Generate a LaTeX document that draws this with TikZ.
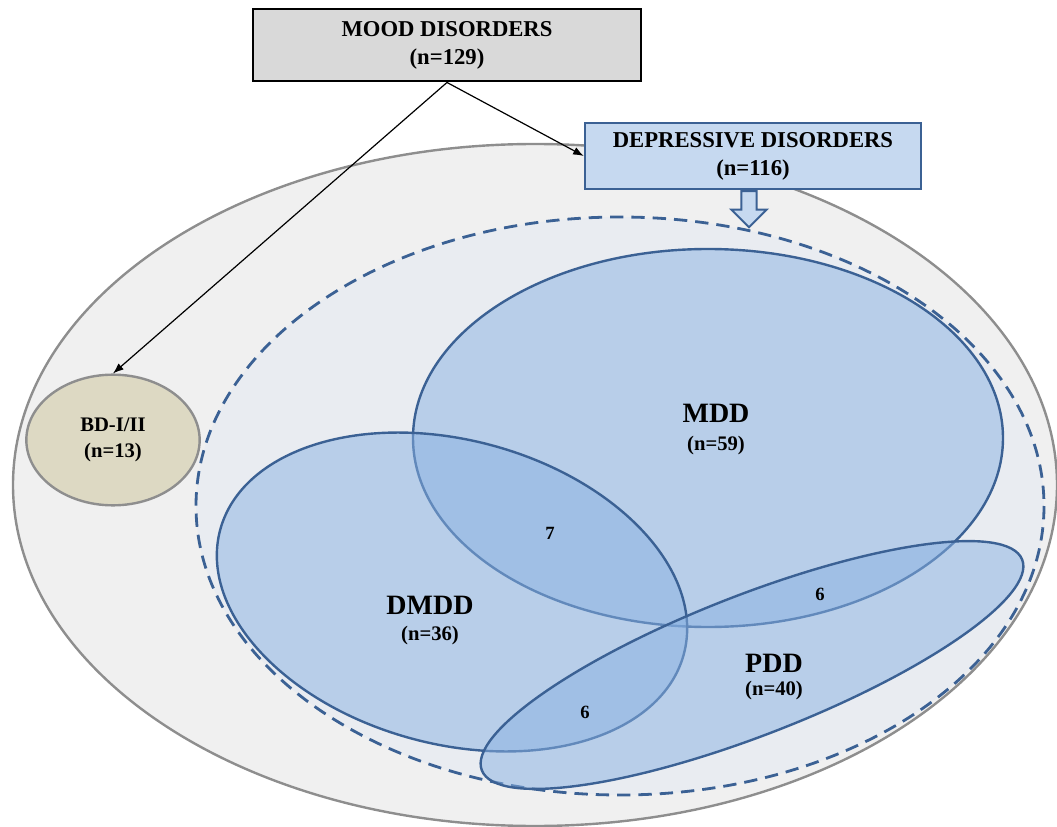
\documentclass[tikz,border=0pt]{standalone}
\usepackage{fontspec}
\setmainfont{Liberation Serif}
\usetikzlibrary{shapes.geometric,shapes.arrows,arrows.meta}

\definecolor{boxgray}{HTML}{D9D9D9}
\definecolor{outerfill}{HTML}{F0F0F0}
\definecolor{outerline}{HTML}{8E8E8E}
\definecolor{depfill}{HTML}{E9ECF1}
\definecolor{depbox}{HTML}{C6D9F0}
\definecolor{vennblue}{HTML}{89B2E3}
\definecolor{vennline}{HTML}{3B6194}
\definecolor{bdfill}{HTML}{DDD9C3}

\tikzset{
  boxtext/.style={font=\fontsize{17}{21}\selectfont\bfseries, align=center},
  lbl/.style={font=\fontsize{15.5}{18}\selectfont\bfseries, align=center, inner sep=0pt},
  biglbl/.style={font=\fontsize{21}{24}\selectfont\bfseries, inner sep=0pt},
  numlbl/.style={font=\fontsize{14}{16}\selectfont\bfseries, inner sep=0pt},
  vennset/.style={draw=vennline, line width=1.8pt, fill=vennblue, fill opacity=0.5, draw opacity=1},
  pointer/.style={-{Latex[length=8pt,width=6pt]}, line width=0.9pt}
}

\begin{document}
\begin{tikzpicture}[x=0.75pt, y=-0.75pt]
    \useasboundingbox (0,0) rectangle (1057,827);

    % Mood disorders
    \draw[draw=outerline, line width=1.8pt, fill=outerfill] (535,485) ellipse [x radius=522, y radius=341];

    % Depressive disorders
    \draw[draw=vennline, line width=2.1pt, dash pattern=on 10pt off 6pt, fill=depfill] (620,506) ellipse [x radius=424, y radius=289];

    % Venn
    \draw[vennset] (708,438) ellipse [x radius=295, y radius=189];
    \draw[vennset, rotate around={-15:(452,592)}] (452,592) ellipse [x radius=240, y radius=152];
    \draw[vennset, rotate around={21.3:(752,665)}] (752,665) ellipse [x radius=290, y radius=70];

    \node[biglbl] (mddname) at (716,413) {MDD};
    \node[lbl] (mddn) at (716,446) {(n=59)};
    \node[biglbl] (dmddname) at (430,605) {DMDD};
    \node[lbl] (dmddn) at (430,636) {(n=36)};
    \node[biglbl] (pddname) at (774,663) {PDD};
    \node[lbl] (pddn) at (774,691) {(n=40)};
    \node[numlbl] (mddxdmdd) at (550,533) {7};
    \node[numlbl] (mddxpdd) at (820,594) {6};
    \node[numlbl] (dmddxpdd) at (585,712) {6};

    % Boxes
    \node[boxtext, draw=black, line width=2.2pt, fill=boxgray, minimum width=291pt, minimum height=54pt] (mood) at (447,45) {MOOD DISORDERS\\(n=129)};
    \node[boxtext, draw=vennline, line width=1.8pt, fill=depbox, minimum width=252pt, minimum height=49.5pt] (dep) at (753,156) {DEPRESSIVE DISORDERS\\(n=116)};
    \node[lbl, ellipse, draw=outerline, line width=1.8pt, fill=bdfill, minimum width=130pt, minimum height=98pt] (bd) at (113,440) {BD-I/II\\[2pt](n=13)};

    % Arrows
    \draw[pointer] (mood.south) -- (bd.north);
    \draw[pointer] (mood.south) -- (dep.west);
    \node[single arrow, shape border rotate=270, anchor=tail, draw=vennline, line width=1.5pt, fill=depbox,
          inner xsep=5pt, inner ysep=0pt, minimum width=25.5pt, single arrow head extend=7.5pt, minimum height=27pt] (down) at ([xshift=-3pt]dep.south) {};
\end{tikzpicture}
\end{document}
